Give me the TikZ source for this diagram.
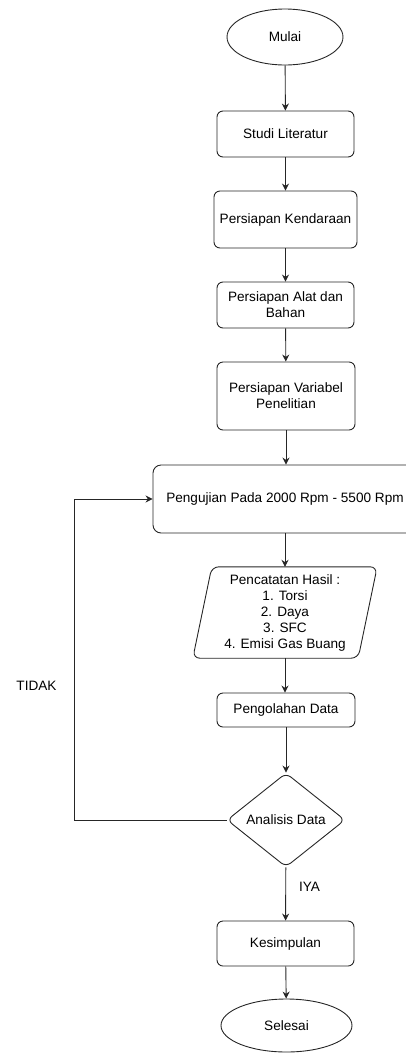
\documentclass[tikz,border=0pt]{standalone}
\usepackage{fontspec}
\setmainfont{Liberation Sans}
\usetikzlibrary{shapes.geometric,arrows.meta}
\begin{document}
\begin{tikzpicture}[x=1pt,y=-1pt,
  every node/.style={font=\fontsize{13.6}{16}\selectfont, align=center, inner sep=0pt},
  line/.style={draw=black!85, line width=0.9pt},
  box/.style={line, rectangle, rounded corners=6pt},
  term/.style={line, ellipse},
  arr/.style={line, -{Stealth[length=7pt,width=7pt]}}]
\useasboundingbox (0,0) rectangle (406,1053);
\node[term, minimum width=116pt, minimum height=56pt] (mulai) at (285,37) {Mulai};
\node[box, minimum width=137pt, minimum height=46pt] (studi) at (285.5,134) {Studi Literatur};
\node[box, minimum width=143pt, minimum height=57pt] (kend) at (285.5,219.5) {Persiapan Kendaraan};
\node[box, minimum width=137pt, minimum height=46pt] (alat) at (285.5,305) {Persiapan Alat dan\\Bahan};
\node[box, minimum width=138pt, minimum height=68pt] (var) at (286,396) {Persiapan Variabel\\Penelitian};
\node[box, rounded corners=8pt, minimum width=264pt, minimum height=68pt] (peng) at (285,499) {Pengujian Pada 2000 Rpm - 5500 Rpm};
\node[minimum width=165pt, minimum height=91pt] (pc) at (285,612.5) {Pencatatan Hasil :\\1. Torsi\\2. Daya\\3. SFC\\4. Emisi Gas Buang};
\draw[line, rounded corners=7pt] ([xshift=9.5pt]pc.north west) -- ([xshift=9.5pt]pc.north east) -- ([xshift=-9.5pt]pc.south east) -- ([xshift=-9.5pt]pc.south west) -- cycle;
\node[box, minimum width=138pt, minimum height=34pt] (olah) at (286,710) {Pengolahan Data};
\node[line, diamond, rounded corners=6pt, aspect=1.25, minimum width=118pt, minimum height=94pt] (dia) at (286,820) {Analisis Data};
\node[box, minimum width=137pt, minimum height=45pt] (kes) at (285.5,943.5) {Kesimpulan};
\node[term, minimum width=131pt, minimum height=53pt] (sel) at (286.5,1025.5) {Selesai};
\node (iya) at (309.5,887) {IYA};
\node (tidak) at (36.5,685.5) {TIDAK};
\coordinate (loop) at (74,499);
\draw[arr] (mulai) -- (studi);
\draw[arr] (studi) -- (kend);
\draw[arr] (kend) -- (alat);
\draw[arr] (alat) -- (var);
\draw[arr] (var.south) -- (var.south |- peng.north);
\draw[arr] (peng.south -| pc.north) -- (pc.north);
\draw[arr] (pc.south) -- (pc.south |- olah.north);
\draw[arr] (olah) -- (dia);
\draw[arr] (dia) -- (kes);
\draw[arr] (kes) -- (sel);
\draw[arr] (dia.west) -| (loop) -- (peng.west);
\end{tikzpicture}
\end{document}
